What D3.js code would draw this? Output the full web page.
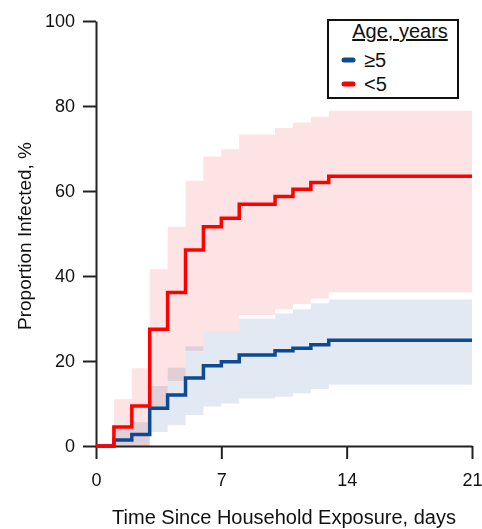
<!DOCTYPE html>
<html>
<head>
<meta charset="utf-8">
<script src="https://cdn.jsdelivr.net/npm/d3@7"></script>
<style>
  body { margin: 0; background: #fff; }
  svg { font-family: "Liberation Sans", Arial, sans-serif; }
</style>
</head>
<body>
<svg width="482" height="529"></svg>
<script>
// days since exposure (step starts)
const days = [0, 1, 2, 3, 4, 5, 6, 7, 8, 9, 10, 11, 12, 13, 21];

// age >= 5
const ge5 = [0, 1.4, 2.7, 8.9, 12.0, 16.0, 18.9, 19.8, 21.4, 21.4, 22.4, 23.0, 23.8, 24.9, 24.9];
const ge5Lo = [0, 0, 0, 3.3, 4.9, 7.3, 9.3, 10.0, 11.2, 11.2, 11.6, 12.4, 13.4, 14.4, 14.4];
const ge5Hi = [0, 3.8, 5.6, 14.1, 18.4, 23.5, 27.0, 27.0, 30.0, 30.0, 31.2, 32.2, 33.6, 34.5, 34.5];

// age < 5
const lt5 = [0, 4.5, 9.4, 27.5, 36.1, 46.1, 51.6, 53.6, 56.9, 56.9, 58.7, 60.4, 62.0, 63.5, 63.5];
const lt5Lo = [0, 0, 0, 9.2, 15.3, 22.4, 27.0, 27.0, 30.8, 30.8, 32.2, 33.4, 34.7, 36.2, 36.2];
const lt5Hi = [0, 11.0, 18.3, 41.6, 51.6, 62.4, 68.1, 69.8, 73.3, 73.3, 74.8, 76.1, 77.5, 78.9, 78.9];

const xTicks = [0, 7, 14, 21];
const yTicks = [0, 20, 40, 60, 80, 100];

const blue = "#0d4a92", red = "#ff0000";

const svg = d3.select("svg");
const x = d3.scaleLinear().domain([0, 21]).range([96, 472]);
const y = d3.scaleLinear().domain([0, 100]).range([446, 21]);

const rows = (v, lo, hi) => days.map((d, i) => ({d: d, v: v[i], lo: lo[i], hi: hi[i]}));
const redRows = rows(lt5, lt5Lo, lt5Hi);
const blueRows = rows(ge5, ge5Lo, ge5Hi);

const band = d3.area().curve(d3.curveStepAfter)
    .x(r => x(r.d)).y0(r => y(r.lo)).y1(r => y(r.hi));
const line = d3.line().curve(d3.curveStepAfter)
    .x(r => x(r.d)).y(r => y(r.v));

svg.append("path").attr("d", band(redRows))
    .attr("fill", "#fde3e3").style("mix-blend-mode", "multiply");
svg.append("path").attr("d", band(blueRows))
    .attr("fill", "#e3e9f2").style("mix-blend-mode", "multiply");

// axes
const ax = svg.append("g").attr("transform", "translate(0,446)")
    .call(d3.axisBottom(x).tickValues(xTicks).tickSize(13).tickPadding(14).tickSizeOuter(0));
const ay = svg.append("g").attr("transform", "translate(96,0)")
    .call(d3.axisLeft(y).tickValues(yTicks).tickSize(13).tickPadding(8).tickSizeOuter(0));
[ax, ay].forEach(g => {
  g.select(".domain").attr("stroke", "#222").attr("stroke-width", 2);
  g.selectAll(".tick line").attr("stroke", "#222").attr("stroke-width", 2);
  g.selectAll(".tick text").attr("fill", "#111").style("font-size", "18px")
      .style("font-family", "Liberation Sans, Arial, sans-serif");
});

svg.append("path").attr("d", line(blueRows))
    .attr("fill", "none").attr("stroke", blue).attr("stroke-width", 3.5);
svg.append("path").attr("d", line(redRows))
    .attr("fill", "none").attr("stroke", red).attr("stroke-width", 3.5);

// axis titles
svg.append("text").attr("x", 284).attr("y", 524).attr("text-anchor", "middle")
    .style("font-size", "20px").attr("fill", "#111")
    .text("Time Since Household Exposure, days");
svg.append("text").attr("transform", "translate(31,236) rotate(-90)")
    .attr("text-anchor", "middle").style("font-size", "19px").attr("fill", "#111")
    .text("Proportion Infected, %");

// legend
const lg = svg.append("g");
lg.append("rect").attr("x", 328).attr("y", 20).attr("width", 130).attr("height", 78)
    .attr("fill", "#fff").attr("stroke", "#111").attr("stroke-width", 2);
lg.append("text").attr("x", 400).attr("y", 38).attr("text-anchor", "middle")
    .style("font-size", "20px").style("text-decoration", "underline").attr("fill", "#111")
    .text("Age, years");
const items = [{label: "\u22655", color: blue}, {label: "<5", color: red}];
items.forEach((it, i) => {
  const yy = 60 + i * 24;
  lg.append("line").attr("x1", 344).attr("x2", 353).attr("y1", yy).attr("y2", yy)
      .attr("stroke", it.color).attr("stroke-width", 5).attr("stroke-linecap", "round");
  lg.append("text").attr("x", 364).attr("y", yy + 7)
      .style("font-size", "20px").attr("fill", "#111").text(it.label);
});
</script>
</body>
</html>
